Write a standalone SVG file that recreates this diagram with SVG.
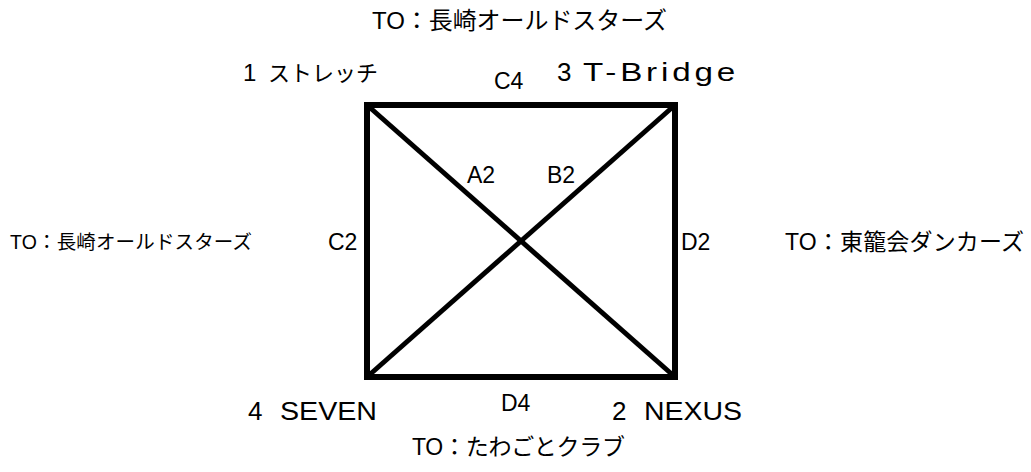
<svg xmlns="http://www.w3.org/2000/svg" width="1031" height="472" viewBox="0 0 1031 472">
<style>
text{font-family:"Liberation Sans","Noto Sans CJK JP",Arial,sans-serif;fill:#000}
.el{font-size:23px}
.nd{font-size:26px}
.edge{stroke:#000;fill:none}
</style>
<rect width="1031" height="472" fill="#fff"/>
<g id="connectors">
<rect class="edge" x="367" y="105" width="308" height="272" stroke-width="6"/>
<line class="edge" x1="367" y1="105" x2="675" y2="377" stroke-width="5"/>
<line class="edge" x1="367" y1="377" x2="675" y2="105" stroke-width="5"/>
<text class="el" x="494" y="89">C4</text>
<text class="el" x="467" y="183">A2</text>
<text class="el" x="547" y="183">B2</text>
<text class="el" x="328" y="250">C2</text>
<text class="el" x="681" y="250">D2</text>
<text class="el" x="501" y="411">D4</text>
</g>
<g id="node-1">
<text style="font-size:24px" x="243" y="81">1</text>
<text style="font-size:22px" x="268" y="81" textLength="110" lengthAdjust="spacing">ストレッチ</text>
</g>
<g id="node-3">
<text class="nd" x="557" y="81">3</text>
<text class="nd" x="583" y="81" style="letter-spacing:3px" textLength="156" lengthAdjust="spacingAndGlyphs">T-Bridge</text>
</g>
<g id="node-4">
<text class="nd" x="248" y="420">4</text>
<text class="nd" x="280" y="420" textLength="97" lengthAdjust="spacingAndGlyphs">SEVEN</text>
</g>
<g id="node-2">
<text class="nd" x="612" y="420">2</text>
<text class="nd" x="644" y="420" textLength="98" lengthAdjust="spacingAndGlyphs">NEXUS</text>
</g>
<g id="to-top">
<text style="font-size:24px" x="372" y="29" textLength="295" lengthAdjust="spacing">TO：長崎オールドスターズ</text>
</g>
<g id="to-left">
<text style="font-size:19.5px" x="10" y="249" textLength="242" lengthAdjust="spacing">TO：長崎オールドスターズ</text>
</g>
<g id="to-right">
<text style="font-size:23px" x="785" y="250" textLength="239" lengthAdjust="spacing">TO：東籠会ダンカーズ</text>
</g>
<g id="to-bottom">
<text style="font-size:23px" x="412" y="455" textLength="213" lengthAdjust="spacing">TO：たわごとクラブ</text>
</g>
</svg>
